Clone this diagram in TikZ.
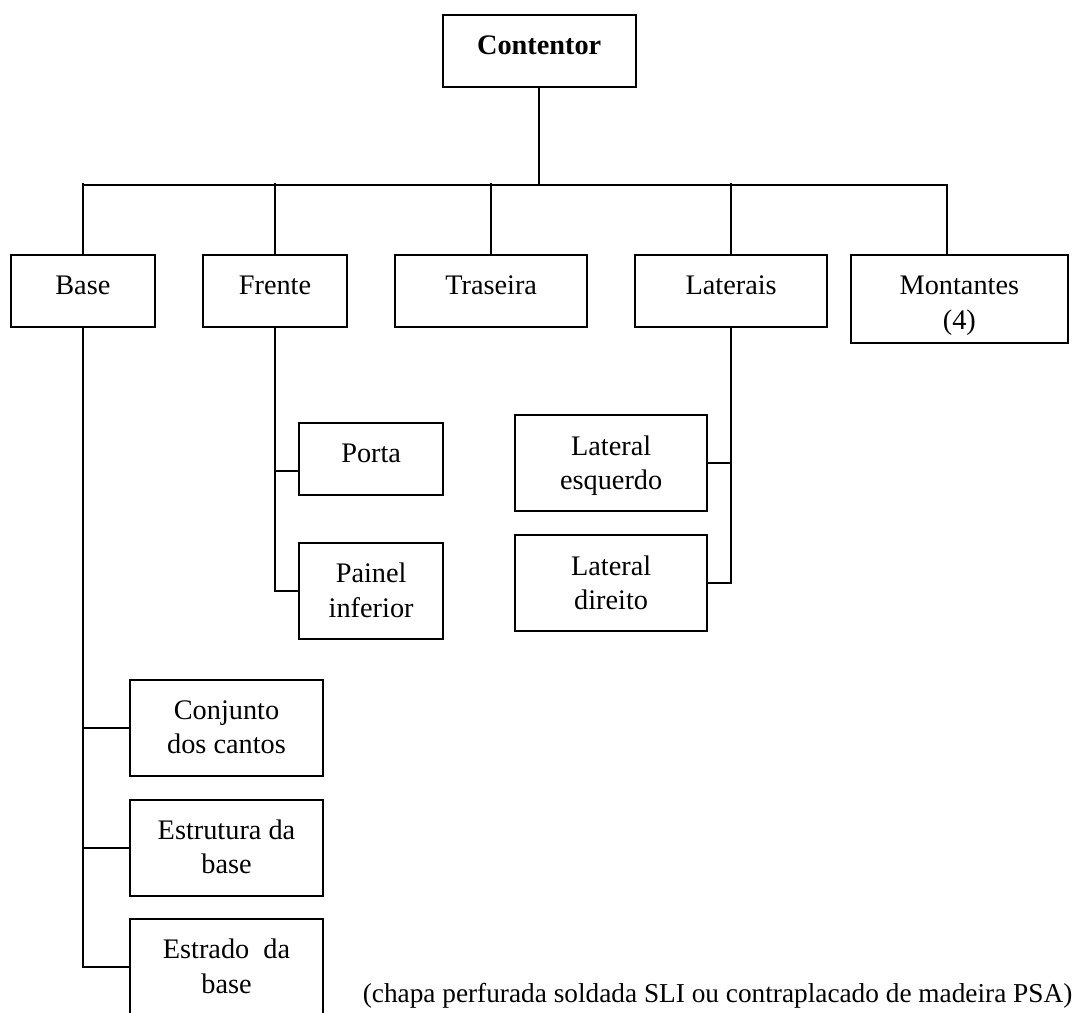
\documentclass[tikz,border=0pt]{standalone}
\usepackage{fontspec}
\setmainfont{Liberation Serif}
\usetikzlibrary{calc}
\begin{document}
\begin{tikzpicture}[x=0.5pt,y=-0.5pt,
  wire/.style={line width=1pt},
  box/.style 2 args={draw, line width=1pt, rectangle, inner sep=0pt,
    minimum width=#1*0.5pt, minimum height=#2*0.5pt},
  txt/.style={anchor=north, inner sep=0pt, align=center,
    font=\fontsize{14.15}{17.2}\selectfont},
  note/.style={anchor=base east, inner sep=0pt,
    font=\fontsize{13.65}{16.5}\selectfont}]
\useasboundingbox (0,0) rectangle (1075,1012);

% boxes
\node[box={193}{72}]    (cont)      at (539.2,51)    {};
\node[box={144.3}{72}]  (base)      at (82.85,291)   {};
\node[box={144.6}{72}]  (frente)    at (275,291)     {};
\node[box={192.3}{72}]  (traseira)  at (491.15,291)  {};
\node[box={192.3}{72}]  (laterais)  at (731.15,291)  {};
\node[box={216.7}{88.3}](montantes) at (959.35,299.15){};
\node[box={144.3}{72}]  (porta)     at (371.15,459.2){};
\node[box={144.3}{96}]  (painel)    at (371.15,591.3){};
\node[box={192.3}{96}]  (latesq)    at (611.15,463.4){};
\node[box={192.3}{96}]  (latdir)    at (611.15,583.4){};
\node[box={193}{96}]    (conj)      at (226.5,727.5) {};
\node[box={193}{96}]    (estrut)    at (226.5,847.5) {};
\node[box={193}{96}]    (estrado)   at (226.5,967.3) {};

% labels, first baseline a fixed distance below each box top
\def\gap{16.2}
\node[txt] (cont-t)      at ($(cont.north)+(0,\gap)$)      {\strut\bfseries Contentor};
\node[txt] (base-t)      at ($(base.north)+(0,\gap)$)      {\strut Base};
\node[txt] (frente-t)    at ($(frente.north)+(0,\gap)$)    {\strut Frente};
\node[txt] (traseira-t)  at ($(traseira.north)+(0,\gap)$)  {\strut Traseira};
\node[txt] (laterais-t)  at ($(laterais.north)+(0,\gap)$)  {\strut Laterais};
\node[txt] (montantes-t) at ($(montantes.north)+(0,\gap)$) {\strut Montantes\\(4)};
\node[txt] (porta-t)     at ($(porta.north)+(0,\gap)$)     {\strut Porta};
\node[txt] (painel-t)    at ($(painel.north)+(0,\gap)$)    {\strut Painel\\inferior};
\node[txt] (latesq-t)    at ($(latesq.north)+(0,\gap)$)    {\strut Lateral\\esquerdo};
\node[txt] (latdir-t)    at ($(latdir.north)+(0,\gap)$)    {\strut Lateral\\direito};
\node[txt] (conj-t)      at ($(conj.north)+(0,\gap)$)      {\strut Conjunto\\dos cantos};
\node[txt] (estrut-t)    at ($(estrut.north)+(0,\gap)$)    {\strut Estrutura da\\base};
\node[txt] (estrado-t)   at ($(estrado.north)+(0,\gap)$)   {\strut Estrado\ \ da\\base};

\node[note] (nota) at (1072.7,1002)
  {(chapa perfurada soldada SLI ou contraplacado de madeira PSA)};

% main bus
\coordinate (bus)   at (0,185);
\coordinate (tick)  at (0,182.7);
\coordinate (mdrop) at (946.7,185);
\draw[wire] (cont.south) -- (cont.south |- bus);
\draw[wire] (base.north |- bus) -- (mdrop) -- (mdrop |- montantes.north);
\foreach \n in {base,frente,traseira,laterais}
  \draw[wire] (\n.north) -- (\n.north |- tick);

% Base branch
\draw[wire] (base.south) -- (base.south |- estrado.west) -- (estrado.west);
\draw[wire] (base.south |- conj.west) -- (conj.west);
\draw[wire] (base.south |- estrut.west) -- (estrut.west);

% Frente branch
\coordinate (porta-in) at ($(porta.west)+(0,12)$);
\draw[wire] (frente.south) -- (frente.south |- painel.west) -- (painel.west);
\draw[wire] (frente.south |- porta-in) -- (porta-in);

% Laterais branch
\draw[wire] (laterais.south) -- (laterais.south |- latdir.east) -- (latdir.east);
\draw[wire] (laterais.south |- latesq.east) -- (latesq.east);
\end{tikzpicture}
\end{document}
